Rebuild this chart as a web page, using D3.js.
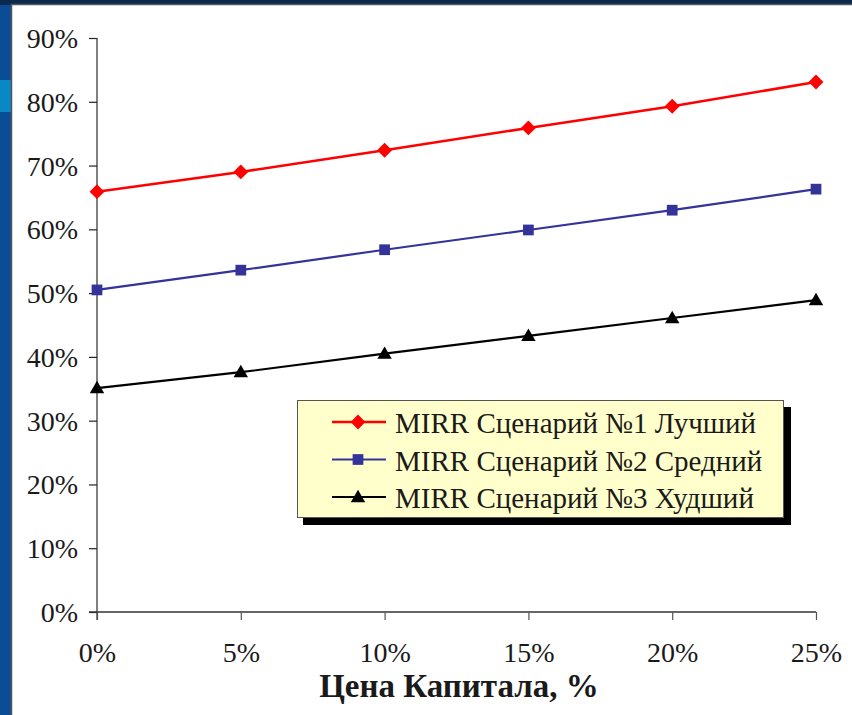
<!DOCTYPE html>
<html>
<head>
<meta charset="utf-8">
<script src="https://cdn.jsdelivr.net/npm/d3@7"></script>
<style>
  html, body { margin: 0; padding: 0; background: #fff; }
  svg { display: block; }
</style>
</head>
<body>
<svg id="chart"></svg>
<script>
const rates = [0, 5, 10, 15, 20, 25];
const best = [65.9, 69.0, 72.4, 75.9, 79.3, 83.1];
const middle = [50.5, 53.6, 56.8, 59.9, 63.0, 66.3];
const worst = [35.1, 37.6, 40.5, 43.3, 46.1, 48.9];
const yTicks = [0, 10, 20, 30, 40, 50, 60, 70, 80, 90];
const seriesNames = ["MIRR Сценарий №1 Лучший", "MIRR Сценарий №2 Средний", "MIRR Сценарий №3 Худший"];

const W = 852, H = 715;
const font = '"Liberation Serif", "Times New Roman", serif';
const svg = d3.select("#chart").attr("width", W).attr("height", H);

// slide background bits
svg.append("rect").attr("x", 0).attr("y", 0).attr("width", W).attr("height", H).attr("fill", "#0b4c96");
svg.append("rect").attr("x", 0).attr("y", 0).attr("width", W).attr("height", 5).attr("fill", "#0c2a4e");
svg.append("rect").attr("x", 0).attr("y", 80).attr("width", 11).attr("height", 32).attr("fill", "#0a88c6");
svg.append("rect").attr("x", 11.5).attr("y", 4.5).attr("width", W).attr("height", H)
    .attr("fill", "#fff").attr("stroke", "#555").attr("stroke-width", 1.5);

const x = d3.scaleLinear().domain([0, 25]).range([97, 816]);
const y = d3.scaleLinear().domain([0, 90]).range([612, 38]);

// y axis
const yAxis = svg.append("g").attr("transform", "translate(97,0)")
    .call(d3.axisLeft(y).tickValues(yTicks).tickSize(8).tickPadding(11).tickFormat(d => d + "%"));
yAxis.select(".domain").attr("stroke", "#808080").attr("stroke-width", 2).attr("d", `M0,${y(90)}V${y(0) + 8}`);
yAxis.selectAll(".tick line").attr("stroke", "#222").attr("stroke-width", 1.2);
yAxis.selectAll("text").style("font-family", font).attr("font-size", 28).attr("fill", "#1a1a1a").attr("dy", "0.34em");

// x axis
const xAxis = svg.append("g").attr("transform", "translate(0,612)")
    .call(d3.axisBottom(x).tickValues(rates).tickSize(8).tickFormat(d => d + "%"));
xAxis.select(".domain").attr("stroke", "#333").attr("stroke-width", 1.5).attr("d", `M${x(0) - 8},0H${x(25)}`);
xAxis.selectAll(".tick line").attr("stroke", "#555").attr("stroke-width", 1.2);
xAxis.selectAll("text").style("font-family", font).attr("font-size", 28).attr("fill", "#1a1a1a")
    .attr("y", 50).attr("dy", 0);

svg.append("text").attr("x", 459).attr("y", 697).attr("text-anchor", "middle")
    .style("font-family", font).attr("font-size", 33).attr("font-weight", "bold").attr("fill", "#1a1a1a")
    .text("Цена Капитала, %");

const series = [
  { name: seriesNames[0], values: best, color: "#ff0000", symbol: d3.symbolSquare, size: 110, rot: 45, sw: 2.6 },
  { name: seriesNames[1], values: middle, color: "#333399", symbol: d3.symbolSquare, size: 115, rot: 0, sw: 2.2 },
  { name: seriesNames[2], values: worst, color: "#000000", symbol: d3.symbolTriangle, size: 90, rot: 0, sw: 2.2 }
];

const line = d3.line().x((d, i) => x(rates[i])).y(d => y(d));

series.forEach(s => {
  svg.append("path").attr("d", line(s.values)).attr("fill", "none")
      .attr("stroke", s.color).attr("stroke-width", s.sw);
  svg.selectAll(null).data(s.values).enter().append("path")
      .attr("transform", (d, i) => `translate(${x(rates[i])},${y(d) + (s.symbol === d3.symbolTriangle ? 1 : 0)}) rotate(${s.rot})`)
      .attr("d", d3.symbol().type(s.symbol).size(s.size))
      .attr("fill", s.color);
});

// legend
const lg = svg.append("g");
lg.append("rect").attr("x", 303).attr("y", 407).attr("width", 488).attr("height", 118).attr("fill", "#000");
lg.append("rect").attr("x", 297.5).attr("y", 400.5).attr("width", 486).attr("height", 117)
    .attr("fill", "#ffffcc").attr("stroke", "#555").attr("stroke-width", 1);
series.forEach((s, i) => {
  const cy = 422 + i * 37.5;
  lg.append("line").attr("x1", 332).attr("x2", 386).attr("y1", cy).attr("y2", cy)
      .attr("stroke", s.color).attr("stroke-width", s.sw);
  lg.append("path").attr("transform", `translate(358,${cy + (s.symbol === d3.symbolTriangle ? 1 : 0)}) rotate(${s.rot})`)
      .attr("d", d3.symbol().type(s.symbol).size(s.size)).attr("fill", s.color);
  lg.append("text").attr("x", 395).attr("y", cy + 11).style("font-family", font).attr("font-size", 29)
      .attr("fill", "#1a1a1a").text(s.name);
});
</script>
</body>
</html>
